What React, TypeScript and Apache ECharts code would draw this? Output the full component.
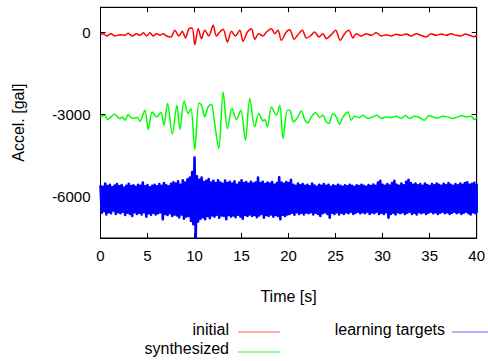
import React, { useEffect, useRef } from "react";
import * as echarts from "echarts";

// ---- data ----
const accelTicks = [-6000, -3000, 0];

const initial: [number, number][] = [
  [0, -96], [0.3, -60], [0.65, -145], [1.11, -60], [1.54, -145], [2.07, -96], [2.6, -121], [2.95, -48],
  [3.38, -145], [3.84, -60], [4.19, -121], [4.55, -24], [4.9, -145], [5.25, -24], [5.61, -145], [5.96, -60],
  [6.32, -121], [6.67, -60], [7.02, -145], [7.48, -182], [7.91, 62], [8.33, -145], [8.69, 24], [9.04, -218],
  [9.4, 121], [9.75, 145], [10.03, -460], [10.39, 121], [10.74, -242], [11.09, 62], [11.52, -145], [11.98, 244],
  [12.33, -145], [12.69, 0], [13.04, 97], [13.5, -363], [13.92, 24], [14.35, -145], [14.81, 62], [15.16, -339],
  [15.62, 0], [16.05, 121], [16.4, -266], [16.83, -60], [17.29, -145], [17.64, 0], [18.17, 121], [18.52, -60],
  [18.88, 62], [19.23, -303], [19.76, 0], [20.12, 80], [20.6, -266], [21.0, -96], [21.46, 62], [21.89, -218],
  [22.31, -145], [22.77, 0], [23.23, -182], [23.65, -60], [24.01, -242], [24.54, -96], [25.0, 62], [25.5, -303],
  [25.96, -60], [26.41, 62], [26.84, -218], [27.2, -60], [27.73, -145], [28.26, -60], [28.79, -121], [29.32, -24],
  [29.85, -145], [30.38, -96], [30.91, -145], [31.44, -84], [31.97, -121], [32.5, -72], [33.03, -145], [33.57, -60],
  [34.1, -121], [34.63, -182], [35.16, -60], [35.69, -121], [36.22, -72], [36.75, -121], [37.28, -60], [37.81, -121],
  [38.34, -145], [38.8, -72], [39.23, -121], [39.76, -170], [40, -121],
];

const synthesized: [number, number][] = [
  [0, -3091], [0.12, -3065], [0.48, -3041], [0.76, -3187], [1.19, -3065], [1.47, -2993], [1.82, -3090], [2.07, -3150],
  [2.32, -3090], [2.6, -3211], [2.95, -3005], [3.24, -3114], [3.59, -3138], [3.95, -3114], [4.19, -3259], [4.72, -2847],
  [5.08, -3550], [5.5, -2908], [5.96, -3090], [6.42, -2932], [6.74, -3393], [7.13, -2605], [7.63, -3720], [8.12, -2665],
  [8.44, -3550], [8.9, -2508], [9.32, -2968], [9.61, -2787], [10.03, -4277], [10.46, -2581], [10.74, -2665], [11.09, -3090],
  [11.45, -2726], [11.8, -2629], [12.08, -3187], [12.58, -4241], [13.04, -2181], [13.5, -3514], [13.99, -2787], [14.46, -3187],
  [14.92, -2847], [15.41, -3938], [15.87, -2423], [16.4, -3453], [16.83, -2968], [17.29, -3235], [17.46, -3187], [17.75, -3453],
  [18.17, -2726], [18.7, -3029], [19.06, -2665], [19.41, -3877], [19.87, -2847], [20.17, -2860], [20.5, -3271], [20.89, -3150],
  [21.36, -2872], [21.71, -3187], [22.06, -3308], [22.42, -3090], [22.88, -2944], [23.3, -3114], [23.65, -3029], [24.01, -3271],
  [24.29, -3332], [24.72, -2968], [25.07, -3090], [25.42, -3356], [25.78, -3090], [26.31, -2908], [26.66, -3211], [27.02, -3065],
  [27.55, -3114], [27.9, -3029], [28.43, -3150], [28.96, -3090], [29.39, -3029], [29.85, -3150], [30.38, -3090], [30.91, -3114],
  [31.44, -3065], [31.97, -3150], [32.43, -3041], [32.86, -3150], [33.39, -3065], [33.92, -3114], [34.45, -3211], [34.91, -3041],
  [35.33, -3090], [35.86, -3138], [36.39, -3065], [36.93, -3090], [37.45, -3150], [37.99, -3090], [38.45, -3041], [38.87, -3090],
  [39.4, -3065], [39.76, -3187], [40, -3114],
];

// learning targets: peaks (upper) and troughs (lower) of the dense signal, every 0.25 s
const targetStep = 0.25;
const targetUpper: number[] = [
  -5580, -5640, -5520, -5610, -5560, -5650, -5590, -5540,
  -5620, -5570, -5660, -5600, -5530, -5610, -5580, -5640,
  -5560, -5600, -5480, -5620, -5570, -5650, -5600, -5560,
  -5620, -5540, -5600, -5500, -5580, -5620, -5530, -5470,
  -5520, -5440, -5560, -5400, -5480, -5360, -5300, -5100,
  -4570, -5250, -5380, -5300, -5460, -5420, -5350, -5480,
  -5420, -5500, -5400, -5480, -5530, -5410, -5500, -5450,
  -5520, -5440, -5560, -5480, -5400, -5500, -5460, -5530,
  -5450, -5520, -5480, -5300, -5500, -5450, -5540, -5480,
  -5520, -5460, -5560, -5500, -5290, -5480, -5530, -5460,
  -5500, -5380, -5560, -5600, -5520, -5580, -5540, -5600,
  -5560, -5620, -5520, -5590, -5640, -5560, -5600, -5540,
  -5600, -5560, -5640, -5580, -5620, -5560, -5600, -5640,
  -5580, -5620, -5560, -5600, -5640, -5580, -5610, -5560,
  -5600, -5640, -5570, -5610, -5550, -5600, -5480, -5420,
  -5560, -5600, -5540, -5590, -5500, -5420, -5560, -5600,
  -5520, -5580, -5450, -5380, -5500, -5560, -5520, -5580,
  -5540, -5600, -5520, -5570, -5610, -5540, -5580, -5520,
  -5560, -5600, -5530, -5580, -5500, -5560, -5600, -5540,
  -5580, -5520, -5560, -5500, -5470, -5560, -5530, -5490,
  -5560,
];
const targetLower: number[] = [
  -6580, -6520, -6640, -6560, -6600, -6500, -6620, -6560,
  -6600, -6540, -6660, -6580, -6620, -6700, -6560, -6620,
  -6580, -6640, -6560, -6720, -6600, -6650, -6580, -6640,
  -6600, -6560, -6820, -6620, -6660, -6600, -6700, -6640,
  -6680, -6750, -6640, -6800, -6720, -6700, -6880, -7000,
  -7470, -6900, -6800, -6740, -6820, -6700, -6780, -6680,
  -6720, -6650, -6760, -6680, -6700, -6820, -6660, -6720,
  -6680, -6740, -6650, -6720, -6800, -6660, -6700, -6640,
  -6700, -6660, -6740, -6680, -6620, -6760, -6660, -6700,
  -6640, -6720, -6660, -6700, -6820, -6650, -6700, -6640,
  -6620, -6580, -6650, -6560, -6620, -6580, -6640, -6570,
  -6600, -6560, -6640, -6580, -6620, -6700, -6600, -6560,
  -6620, -6760, -6580, -6620, -6560, -6640, -6580, -6620,
  -6560, -6600, -6540, -6620, -6580, -6540, -6600, -6560,
  -6600, -6540, -6620, -6570, -6600, -6540, -6620, -6580,
  -6620, -6560, -6760, -6620, -6580, -6640, -6560, -6600,
  -6560, -6620, -6580, -6540, -6620, -6580, -6640, -6560,
  -6600, -6560, -6620, -6580, -6540, -6600, -6560, -6620,
  -6580, -6540, -6600, -6560, -6620, -6580, -6540, -6600,
  -6560, -6620, -6580, -6540, -6600, -6640, -6560, -6600,
  -6580,
];

const FONT = "'Liberation Sans', Arial, Helvetica, sans-serif";

export default function App() {
  const ref = useRef<HTMLDivElement>(null);

  useEffect(() => {
    if (!ref.current) return;
    const chart = echarts.init(ref.current, null, { renderer: "svg" });

    // dense signal: alternate each peak with the following trough
    const targetData: number[][] = [];
    targetUpper.forEach((v, i) => {
      targetData.push([i * targetStep, v]);
      if (i < targetLower.length - 1) targetData.push([i * targetStep + targetStep / 2, targetLower[i]]);
      else targetData.push([i * targetStep, targetLower[i]]);
    });

    const axisLine = { show: true, onZero: false, lineStyle: { color: "#000", width: 1 } };
    const tickStyle = { color: "#000", width: 1 };
    const plain = (v: number) => String(v);

    const option: any = {
      animation: false,
      backgroundColor: "#fff",
      textStyle: { fontFamily: FONT },
      grid: {
        left: 100.5,
        right: 10.5,
        top: 7.3,
        bottom: 123,
        show: true,
        borderColor: "#000",
        borderWidth: 1,
      },
      xAxis: [
        {
          type: "value",
          min: 0,
          max: 40,
          interval: 5,
          position: "bottom",
          name: "Time [s]",
          nameLocation: "middle",
          nameGap: 50,
          nameTextStyle: { color: "#000", fontSize: 16, fontFamily: FONT },
          axisLine,
          axisTick: { show: true, inside: true, length: 5, lineStyle: tickStyle },
          axisLabel: { color: "#000", fontSize: 15, fontFamily: FONT, margin: 10, formatter: plain },
          splitLine: { show: false },
        },
        {
          type: "value",
          min: 0,
          max: 40,
          interval: 5,
          position: "top",
          axisLine,
          axisTick: { show: true, inside: true, length: 5, lineStyle: tickStyle },
          axisLabel: { show: false },
          splitLine: { show: false },
        },
      ],
      yAxis: [
        {
          type: "value",
          min: -7500,
          max: 900,
          position: "left",
          name: "Accel. [gal]",
          nameLocation: "middle",
          nameGap: 74,
          nameTextStyle: { color: "#000", fontSize: 16, fontFamily: FONT },
          axisLine,
          axisTick: { show: true, inside: true, length: 5, lineStyle: tickStyle, customValues: accelTicks },
          axisLabel: { color: "#000", fontSize: 15, fontFamily: FONT, margin: 10, customValues: accelTicks, formatter: plain },
          splitLine: { show: false },
        },
        {
          type: "value",
          min: -7500,
          max: 900,
          position: "right",
          axisLine,
          axisTick: { show: true, inside: true, length: 5, lineStyle: tickStyle, customValues: accelTicks },
          axisLabel: { show: false, customValues: accelTicks },
          splitLine: { show: false },
        },
      ],
      series: [
        {
          name: "learning targets",
          type: "line",
          data: targetData,
          symbol: "none",
          lineStyle: { color: "#0000ff", width: 2.6, join: "round" },
          z: 2,
        },
        {
          name: "synthesized",
          type: "line",
          data: synthesized,
          symbol: "none",
          smooth: 0.3,
          lineStyle: { color: "#00ff00", width: 1.5 },
          z: 3,
        },
        {
          name: "initial",
          type: "line",
          data: initial,
          symbol: "none",
          smooth: 0.3,
          lineStyle: { color: "#ff0000", width: 1.5 },
          z: 4,
        },
      ],
      graphic: [
        { type: "text", x: 229, y: 329.5, style: { text: "initial", font: `16px ${FONT}`, fill: "#000", align: "right", verticalAlign: "middle" } },
        { type: "line", shape: { x1: 238, y1: 332, x2: 280, y2: 332 }, style: { stroke: "#ff0000", lineWidth: 1.2, opacity: 0.6 } },
        { type: "text", x: 229, y: 348.5, style: { text: "synthesized", font: `16px ${FONT}`, fill: "#000", align: "right", verticalAlign: "middle" } },
        { type: "line", shape: { x1: 238, y1: 352, x2: 280, y2: 352 }, style: { stroke: "#00ff00", lineWidth: 1.2, opacity: 0.9 } },
        { type: "text", x: 445, y: 329.5, style: { text: "learning targets", font: `16px ${FONT}`, fill: "#000", align: "right", verticalAlign: "middle" } },
        { type: "line", shape: { x1: 452, y1: 332, x2: 490, y2: 332 }, style: { stroke: "#0000ff", lineWidth: 1.2, opacity: 0.6 } },
      ],
    };

    chart.setOption(option);
    return () => chart.dispose();
  }, []);

  return (
    <div
      ref={ref}
      style={{ position: "absolute", left: 0, top: 0, width: 488, height: 361, background: "#fff" }}
    />
  );
}
